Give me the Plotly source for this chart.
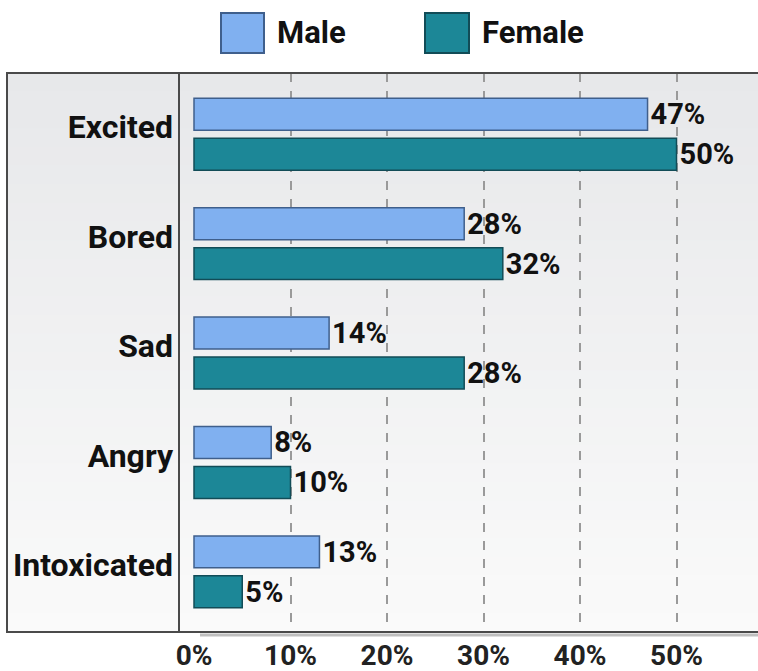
import plotly.graph_objects as go

categories = ["Excited", "Bored", "Sad", "Angry", "Intoxicated"]
male = [47, 28, 14, 8, 13]
female = [50, 32, 28, 10, 5]
tick_vals = [0, 10, 20, 30, 40, 50]
tick_text = ["0%", "10%", "20%", "30%", "40%", "50%"]
grid_vals = [10, 20, 30, 40, 50]

FONT = "Roboto, Liberation Sans, sans-serif"
MALE_FILL, MALE_LINE = "#80b0f0", "#3f5f8c"
FEM_FILL, FEM_LINE = "#1c8797", "#124c57"

W, H = 758, 671
L, R, T, B = 179, 758, 73, 632
def px(x):
    return (x - L) / (R - L)
def py(y):
    return (B - y) / (B - T)

fig = go.Figure()
for name, vals, fc, lc in [("Male", male, MALE_FILL, MALE_LINE), ("Female", female, FEM_FILL, FEM_LINE)]:
    fig.add_trace(go.Bar(
        y=categories, x=vals, orientation="h", name=name,
        marker=dict(color=fc, line=dict(color=lc, width=1.5)),
        text=[f"{v}%" for v in vals], textposition="outside", constraintext="none",
        cliponaxis=False,
        textfont=dict(family=FONT, size=29, color="#111", weight="bold"),
    ))

shapes = []
# gradient background
n = 30
c0 = (0xe7, 0xe8, 0xea)
c1 = (0xfa, 0xfa, 0xfa)
for i in range(n):
    t = i / (n - 1)
    col = "rgb(%d,%d,%d)" % tuple(round(a + (b - a) * t) for a, b in zip(c0, c1))
    y0 = T + (B - T) * i / n
    y1 = T + (B - T) * (i + 1) / n
    shapes.append(dict(type="rect", xref="paper", yref="paper",
                       x0=px(7), x1=px(760), y0=py(y1) - 0.001, y1=py(y0) + 0.001,
                       fillcolor=col, line=dict(width=0), layer="below"))
# shadow under bottom line
shapes.append(dict(type="line", xref="paper", yref="paper", x0=px(200), x1=px(760),
                   y0=py(635), y1=py(635), line=dict(color="rgba(0,0,0,0.25)", width=3),
                   layer="below"))
# frame
shapes.append(dict(type="rect", xref="paper", yref="paper", x0=px(7), x1=px(770),
                   y0=0, y1=1, line=dict(color="#4a4a4a", width=2), layer="above"))
shapes.append(dict(type="line", xref="paper", yref="paper", x0=0, x1=0, y0=0, y1=1,
                   line=dict(color="#4a4a4a", width=2), layer="above"))
# legend swatches
for (x0, x1, fc, lc) in [(221, 264, MALE_FILL, MALE_LINE), (425, 469, FEM_FILL, FEM_LINE)]:
    shapes.append(dict(type="rect", xref="paper", yref="paper", x0=px(x0), x1=px(x1),
                       y0=py(53), y1=py(13), fillcolor=fc, line=dict(color=lc, width=2)))

annotations = [
    dict(text="Male", xref="paper", yref="paper", x=px(275), y=py(33), xanchor="left",
         yanchor="middle", showarrow=False,
         font=dict(family=FONT, size=31, color="#111", weight="bold")),
    dict(text="Female", xref="paper", yref="paper", x=px(480), y=py(33), xanchor="left",
         yanchor="middle", showarrow=False,
         font=dict(family=FONT, size=31, color="#111", weight="bold")),
]

fig.update_layout(
    width=W, height=H,
    margin=dict(l=L, r=W - R, t=T, b=H - B),
    paper_bgcolor="white", plot_bgcolor="rgba(0,0,0,0)",
    barmode="group", bargap=0.27, bargroupgap=0.2,
    showlegend=False,
    shapes=shapes, annotations=annotations,
    xaxis=dict(range=[(L - 194) / 9.65, (R - 194) / 9.65], tickvals=tick_vals, ticktext=tick_text,
               showgrid=False, zeroline=False, showline=False, automargin=False,
               ticks="", ticklabelstandoff=4,
               tickfont=dict(family=FONT, size=28, color="#222", weight="bold"),
               minor=dict(tickvals=grid_vals, showgrid=True, griddash="dash",
                          gridcolor="#9a9a9a", gridwidth=1.5, ticks="")),
    yaxis=dict(categoryorder="array", categoryarray=categories,
               range=[4.55, -0.56], showgrid=False, zeroline=False, showline=False,
               automargin=False, ticks="", ticklabelstandoff=5, ticklabelshift=7,
               tickfont=dict(family=FONT, size=32, color="#111", weight="bold")),
)

fig.write_html("out.html")
